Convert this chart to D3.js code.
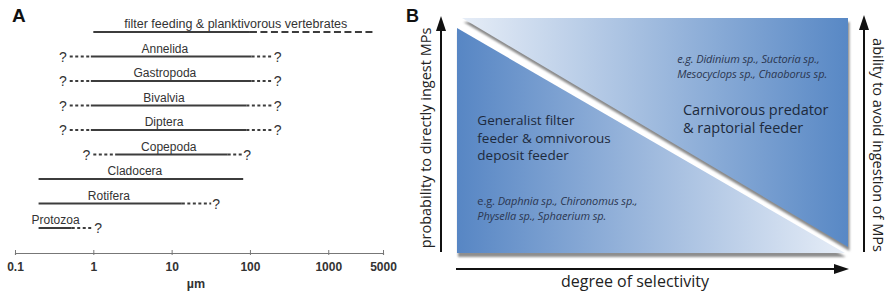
<!DOCTYPE html>
<html>
<head>
<meta charset="utf-8">
<script src="https://cdn.jsdelivr.net/npm/d3@7"></script>
<style>
	body { margin: 0; background: #fff; }
	svg { display: block; }
</style>
</head>
<body>
<div id="chart"></div>
<script>

// ---- Panel A: particle size ranges (µm) per feeding group ----
const groups = ["filter feeding & planktivorous vertebrates", "Annelida", "Gastropoda", "Bivalvia",
	"Diptera", "Copepoda", "Cladocera", "Rotifera", "Protozoa"];
const solidMin = [1, 0.93, 0.93, 0.93, 0.93, 1.9, 0.2, 0.2, 0.2];
const solidMax = [100, 105, 105, 90, 90, 52, 82, 13.5, 0.53];
const dashMin = [null, 0.5, 0.5, 0.5, 0.5, 1, null, null, null];
const dashMax = [4000, 195, 195, 195, 195, 80, null, 32, 1];
const unknownLow = [false, true, true, true, true, true, false, false, false];
const unknownHigh = [false, true, true, true, true, true, false, true, true];
const labelAt = [66, 8.2, 8.2, 8, 8, 9.2, 3.4, 1.58, 0.33];
const sizeTicks = [0.1, 1, 10, 100, 1000, 5000];

// ---- Panel B: conceptual selectivity diagram (0-1 units) ----
const generalistCorners = [[0, 0], [0, 0.957], [0.992, 0]];
const predatorCorners = [[0.013, 1], [1, 1], [1, 0.026]];
const generalistLabel = ["Generalist filter", "feeder & omnivorous", "deposit feeder"];
const predatorLabel = ["Carnivorous predator", "& raptorial feeder"];
const generalistExamples = [["e.g. ", "Daphnia sp., Chironomus sp.,"], ["", "Physella sp., Sphaerium sp."]];
const predatorExamples = ["e.g.  Didinium sp., Suctoria sp.,", "Mesocyclops sp., Chaoborus sp."];
const axisLabels = {
	left: "probability to directly ingest MPs",
	right: "ability to avoid ingestion of MPs",
	bottom: "degree of selectivity"
};

const W = 887, H = 299;

const svg = d3.select("#chart").append("svg")
	.attr("width", W)
	.attr("height", H);

class SizeRangeChart {

	constructor(svg) {
		this._svg = svg;
	}

	initVis() {
		let vis = this;

		vis.g = vis._svg.append("g");

		vis.x = d3.scaleLog()
			.domain([0.1, 5000])
			.range([15, 383]);

		vis.y = d3.scalePoint()
			.domain(groups)
			.range([32, 228]);

		// panel letter
		vis.g.append("text")
			.attr("x", 12)
			.attr("y", 22)
			.style("font-family", "Liberation Sans, Arial, sans-serif")
			.style("font-weight", "bold")
			.style("font-size", "19px")
			.attr("fill", "#111")
			.text("A");

		// axis
		vis.xAxis = d3.axisBottom(vis.x)
			.tickValues(sizeTicks)
			.tickFormat(d => String(d))
			.tickSizeOuter(0)
			.tickSize(2);

		let ax = vis.g.append("g")
			.attr("transform", "translate(0,253)")
			.call(vis.xAxis);
		ax.select(".domain").attr("stroke", "#777").attr("stroke-width", 1.2);
		ax.selectAll(".tick line").attr("stroke", "#777").attr("y1", -3).attr("y2", 2);
		ax.selectAll(".tick text")
			.attr("y", 9)
			.attr("fill", "#333")
			.style("font-family", "Liberation Sans, Arial, sans-serif")
			.style("font-weight", "bold")
			.style("font-size", "12px");

		vis.g.append("text")
			.attr("x", 196)
			.attr("y", 288)
			.attr("text-anchor", "middle")
			.attr("fill", "#333")
			.style("font-family", "Liberation Sans, Arial, sans-serif")
			.style("font-weight", "bold")
			.style("font-size", "12.5px")
			.text("µm");

		let rows = vis.g.selectAll(".row")
			.data(groups.map((name, i) => ({ name, i })))
			.enter().append("g")
			.attr("class", "row");

		// solid known range
		rows.append("line")
			.attr("x1", d => vis.x(solidMin[d.i]))
			.attr("x2", d => vis.x(solidMax[d.i]))
			.attr("y1", d => vis.y(d.name))
			.attr("y2", d => vis.y(d.name))
			.attr("stroke", "#3c3c3c")
			.attr("stroke-width", 2);

		// uncertain lower end
		rows.filter(d => dashMin[d.i] !== null).append("line")
			.attr("x1", d => vis.x(dashMin[d.i]))
			.attr("x2", d => vis.x(solidMin[d.i]))
			.attr("y1", d => vis.y(d.name))
			.attr("y2", d => vis.y(d.name))
			.attr("stroke", "#3c3c3c")
			.attr("stroke-width", 2)
			.style("stroke-dasharray", "3,2.5");

		// uncertain upper end
		rows.filter(d => dashMax[d.i] !== null).append("line")
			.attr("x1", d => vis.x(solidMax[d.i]))
			.attr("x2", d => vis.x(dashMax[d.i]))
			.attr("y1", d => vis.y(d.name))
			.attr("y2", d => vis.y(d.name))
			.attr("stroke", "#3c3c3c")
			.attr("stroke-width", 2)
			.style("stroke-dasharray", d => unknownHigh[d.i] ? "3,2.5" : "7,3.5");

		rows.filter(d => unknownLow[d.i]).append("text")
			.attr("x", d => vis.x(dashMin[d.i]) - 3)
			.attr("y", d => vis.y(d.name) + 5)
			.attr("text-anchor", "end")
			.attr("class", "qmark")
			.text("?");

		rows.filter(d => unknownHigh[d.i]).append("text")
			.attr("x", d => vis.x(dashMax[d.i]) + 1)
			.attr("y", d => vis.y(d.name) + 5)
			.attr("class", "qmark")
			.text("?");

		rows.selectAll(".qmark")
			.attr("fill", "#333")
			.style("font-family", "Liberation Sans, Arial, sans-serif")
			.style("font-size", "14px");

		rows.append("text")
			.attr("x", d => vis.x(labelAt[d.i]))
			.attr("y", d => vis.y(d.name) - 4)
			.attr("text-anchor", "middle")
			.attr("fill", "#333")
			.style("font-family", "Liberation Sans, Arial, sans-serif")
			.style("font-size", d => d.i === 0 ? "12.5px" : "12px")
			.text(d => d.name);
	}
}

class SelectivityDiagram {

	constructor(svg) {
		this._svg = svg;
	}

	initVis() {
		let vis = this;

		vis.g = vis._svg.append("g");

		vis.x = d3.scaleLinear().domain([0, 1]).range([457, 848]);
		vis.y = d3.scaleLinear().domain([0, 1]).range([253, 18]);

		let defs = vis._svg.append("defs");

		let gradDark = defs.append("linearGradient")
			.attr("id", "gradGeneralist")
			.attr("x1", "0%").attr("x2", "100%").attr("y1", "0%").attr("y2", "0%");
		gradDark.append("stop").attr("offset", "0%").attr("stop-color", "#5786c4");
		gradDark.append("stop").attr("offset", "100%").attr("stop-color", "#e6edf7");

		let gradLight = defs.append("linearGradient")
			.attr("id", "gradPredator")
			.attr("x1", "0%").attr("x2", "100%").attr("y1", "0%").attr("y2", "0%");
		gradLight.append("stop").attr("offset", "0%").attr("stop-color", "#e6edf7");
		gradLight.append("stop").attr("offset", "100%").attr("stop-color", "#5888c5");

		defs.append("filter")
			.attr("id", "soft")
			.append("feGaussianBlur")
			.attr("stdDeviation", 0.8);

		let pts = c => c.map(p => [vis.x(p[0]), vis.y(p[1])].join(",")).join(" ");

		// drop shadows
		vis.g.append("polygon")
			.attr("points", pts(generalistCorners))
			.attr("transform", "translate(1,4)")
			.attr("fill", "#8e8e8e")
			.attr("filter", "url(#soft)");
		vis.g.append("polygon")
			.attr("points", pts(predatorCorners))
			.attr("transform", "translate(1.5,4)")
			.attr("fill", "#8a8a8a")
			.attr("filter", "url(#soft)");

		vis.g.append("polygon")
			.attr("points", pts(generalistCorners))
			.attr("fill", "url(#gradGeneralist)");
		vis.g.append("polygon")
			.attr("points", pts(predatorCorners))
			.attr("fill", "url(#gradPredator)");

		// panel letter
		vis.g.append("text")
			.attr("x", 406)
			.attr("y", 22)
			.style("font-family", "Liberation Sans, Arial, sans-serif")
			.style("font-weight", "bold")
			.style("font-size", "18px")
			.attr("fill", "#111")
			.text("B");

		let font = "Open Sans, Noto Sans, sans-serif";
		let ink = "#1d2a3c";

		// generalist block
		vis.g.append("text")
			.attr("y", 125)
			.attr("fill", ink)
			.style("font-family", font)
			.style("font-size", "13.5px")
			.selectAll("tspan")
			.data(generalistLabel)
			.enter().append("tspan")
			.attr("x", vis.x(0.052))
			.attr("dy", (d, i) => i ? 17.5 : 0)
			.text(d => d);

		generalistExamples.forEach((ln, i) => {
			let t = vis.g.append("text")
				.attr("x", vis.x(0.052))
				.attr("y", 205 + i * 15)
				.attr("fill", "#2b3650")
				.style("font-family", font)
				.style("font-size", "11px")
				.style("letter-spacing", "-0.1px");
			t.append("tspan").text(ln[0]);
			t.append("tspan").style("font-style", "italic").text(ln[1]);
		});

		// predator block
		vis.g.append("text")
			.attr("y", 115)
			.attr("fill", ink)
			.style("font-family", font)
			.style("font-size", "14.5px")
			.selectAll("tspan")
			.data(predatorLabel)
			.enter().append("tspan")
			.attr("x", vis.x(0.578))
			.attr("dy", (d, i) => i ? 17.5 : 0)
			.text(d => d);

		predatorExamples.forEach((ln, i) => {
			vis.g.append("text")
				.attr("x", vis.x(0.563))
				.attr("y", 63 + i * 15)
				.attr("fill", "#2b3650")
				.style("font-family", font)
				.style("font-size", "11px")
				.style("letter-spacing", "-0.1px")
				.style("font-style", "italic")
				.text(ln);
		});

		// arrows
		let arrow = (x1, y1, x2, y2) => {
			let a = Math.atan2(y2 - y1, x2 - x1), L = 15, hw = 5;
			let bx = x2 - L * Math.cos(a), by = y2 - L * Math.sin(a);
			vis.g.append("line")
				.attr("x1", x1).attr("y1", y1).attr("x2", bx).attr("y2", by)
				.attr("stroke", "#111").attr("stroke-width", 2);
			vis.g.append("polygon")
				.attr("points", [[x2, y2],
					[bx + hw * Math.sin(a), by - hw * Math.cos(a)],
					[bx - hw * Math.sin(a), by + hw * Math.cos(a)]].map(p => p.join(",")).join(" "))
				.attr("fill", "#111");
		};
		arrow(441, 252, 441, 16);
		arrow(864, 252, 864, 15);
		arrow(456, 269, 849, 269);

		vis.g.append("text")
			.attr("transform", "translate(431,138) rotate(-90)")
			.attr("text-anchor", "middle")
			.attr("fill", "#222")
			.style("font-family", font)
			.style("font-size", "14.5px")
			.text(axisLabels.left);

		vis.g.append("text")
			.attr("transform", "translate(873,145) rotate(90)")
			.attr("text-anchor", "middle")
			.attr("fill", "#222")
			.style("font-family", font)
			.style("font-size", "14.5px")
			.text(axisLabels.right);

		vis.g.append("text")
			.attr("x", 635)
			.attr("y", 287)
			.attr("text-anchor", "middle")
			.attr("fill", "#222")
			.style("font-family", font)
			.style("font-size", "16px")
			.text(axisLabels.bottom);
	}
}

new SizeRangeChart(svg).initVis();
new SelectivityDiagram(svg).initVis();

</script>
</body>
</html>
